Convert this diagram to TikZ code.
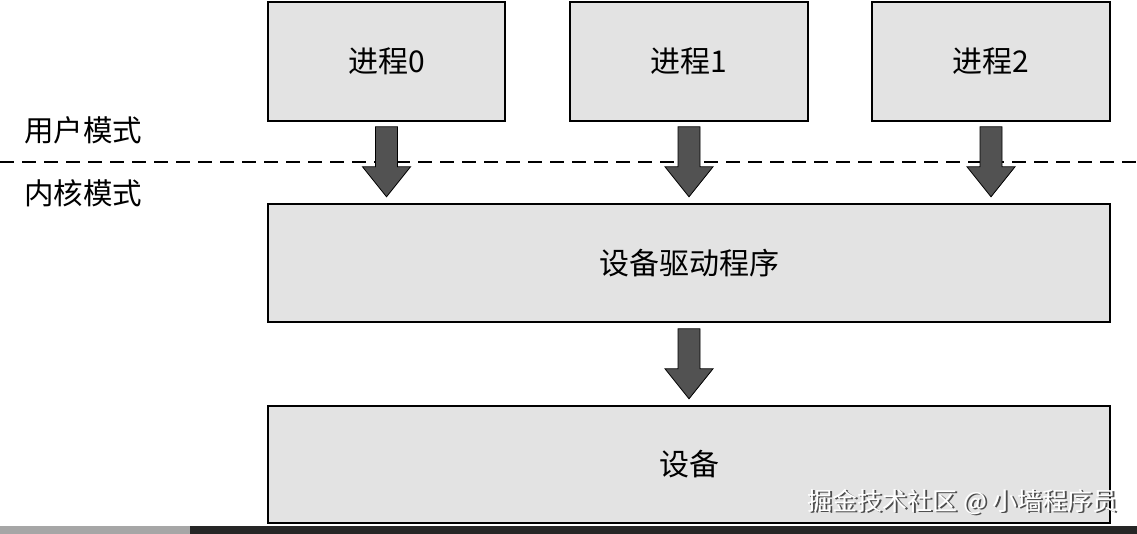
\documentclass[tikz,border=0pt]{standalone}
\usepackage{fontspec}
\newfontfamily\cjk{Noto Sans CJK SC}
\begin{document}
\begin{tikzpicture}[x=1pt,y=-1pt,
  box/.style={draw=black,line width=1.6pt,fill=gray!22,font=\cjk\fontsize{30}{36}\selectfont},
  lbl/.style={font=\cjk\fontsize{29.5}{35}\selectfont,anchor=west,inner sep=0pt},
  barrow/.style={draw=black,line width=0.8pt,fill=black!68}]
\useasboundingbox (0,0) rectangle (1137,534);
\fill[white] (0,0) rectangle (1137,534);
\fill[black!85] (0,526) rectangle (1137,534);
\fill[black!35] (0,526) rectangle (190,534);
\draw[dashed,line width=1.6pt,dash pattern=on 14pt off 8pt] (0,162) -- (1137,162);
\node[box,minimum width=237pt,minimum height=119pt] (p0) at (386.5,61.5) {进程0};
\node[box,minimum width=238pt,minimum height=119pt] (p1) at (689,61.5) {进程1};
\node[box,minimum width=238pt,minimum height=119pt] (p2) at (991,61.5) {进程2};
\node[box,minimum width=842pt,minimum height=118pt] (drv) at (689,263) {设备驱动程序};
\node[box,minimum width=842pt,minimum height=117pt] (dev) at (689,464.5) {设备};
\node[lbl] (um) at (24,130) {用户模式};
\node[lbl] (km) at (24,193) {内核模式};
\foreach \a/\b in {p0/drv,p1/drv,p2/drv}{
  \path (\a.south) ++(0,5) coordinate (t);
  \draw[barrow] (t) ++(-11,0) -- ++(22,0) -- ++(0,40) -- ++(13,0) -- ++(-24,30) -- ++(-24,-30) -- ++(13,0) -- cycle;
}
\path (drv.south) ++(0,6) coordinate (t);
\draw[barrow] (t) ++(-11,0) -- ++(22,0) -- ++(0,40) -- ++(13,0) -- ++(-24,30) -- ++(-24,-30) -- ++(13,0) -- cycle;
\node[font=\cjk\fontsize{25}{30}\selectfont,text=black!70,anchor=east,inner sep=0pt] at (1119.5,503.5) {掘金技术社区 @ 小墙程序员};
\node[font=\cjk\fontsize{25}{30}\selectfont,text=white,anchor=east,inner sep=0pt] (wm) at (1118,502) {掘金技术社区 @ 小墙程序员};
\end{tikzpicture}
\end{document}
